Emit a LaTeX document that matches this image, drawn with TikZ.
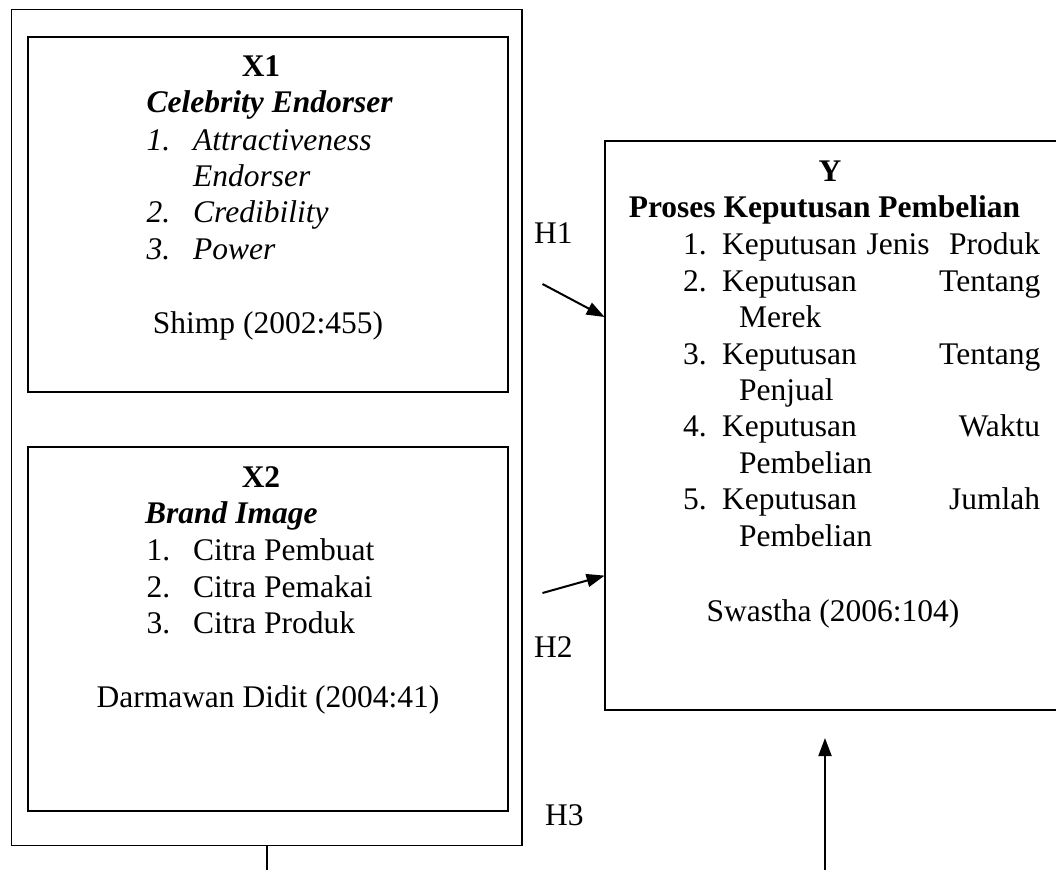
\documentclass[tikz,border=0pt]{standalone}
\usepackage{fontspec}
\setmainfont{Liberation Serif}
\usetikzlibrary{arrows.meta}
\begin{document}
\begin{tikzpicture}[x=1pt,y=-1pt,
  box/.style={draw,line width=1.8pt,anchor=north west,inner sep=0pt,outer sep=0pt},
  txt/.style={inner sep=0pt,anchor=base west,font=\fontsize{31.5}{36}\selectfont},
  ctr/.style={txt,anchor=base},
  conn/.style={line width=2pt},
  arr/.style={conn,-{Triangle[length=18pt,width=13pt]}}]
\clip (0,0) rectangle (1056,869);
\fill[white] (0,0) rectangle (1056,869);
% boxes
\node[box,minimum width=510.5pt,minimum height=836pt] (outer) at (11.5,9.5) {};
\node[box,minimum width=480pt,minimum height=355pt] (x1) at (28,37) {};
\node[box,minimum width=480pt,minimum height=363.7pt] (x2) at (28,447) {};
\node[box,minimum width=470pt,minimum height=569pt] (y) at (605,140.7) {};
% X1 text
\node[ctr,font=\fontsize{31.5}{36}\selectfont\bfseries] (x1t) at (261,77) {X1};
\node[txt,font=\fontsize{31.5}{36}\selectfont\bfseries\itshape] (x1n) at (146.5,113) {Celebrity Endorser};
\node[txt,font=\fontsize{31.5}{36}\selectfont\itshape] (x1a) at (146.5,150) {1.};
\node[txt,font=\fontsize{31.5}{36}\selectfont\itshape] (x1b) at (193,150) {Attractiveness};
\node[txt,font=\fontsize{31.5}{36}\selectfont\itshape] (x1c) at (193,186) {Endorser};
\node[txt,font=\fontsize{31.5}{36}\selectfont\itshape] (x1d) at (146.5,222) {2.};
\node[txt,font=\fontsize{31.5}{36}\selectfont\itshape] (x1e) at (193,222) {Credibility};
\node[txt,font=\fontsize{31.5}{36}\selectfont\itshape] (x1f) at (146.5,259) {3.};
\node[txt,font=\fontsize{31.5}{36}\selectfont\itshape] (x1g) at (193,259) {Power};
\node[ctr] (x1s) at (268,333) {Shimp (2002:455)};
% X2 text
\node[ctr,font=\fontsize{31.5}{36}\selectfont\bfseries] (x2t) at (261,487) {X2};
\node[txt,font=\fontsize{31.5}{36}\selectfont\bfseries\itshape] (x2n) at (145,523) {Brand Image};
\node[txt] (x2a) at (146.5,560) {1.};
\node[txt] (x2b) at (193,560) {Citra Pembuat};
\node[txt] (x2c) at (146.5,597) {2.};
\node[txt] (x2d) at (193,597) {Citra Pemakai};
\node[txt] (x2e) at (146.5,633) {3.};
\node[txt] (x2f) at (193,633) {Citra Produk};
\node[ctr] (x2s) at (268,707) {Darmawan Didit (2004:41)};
% Y text
\node[ctr,font=\fontsize{31.5}{36}\selectfont\bfseries] (yt) at (830,182) {Y};
\node[ctr,font=\fontsize{31.5}{36}\selectfont\bfseries] (yn) at (824.5,217) {Proses Keputusan Pembelian};
\node[txt] (y1n) at (683,254.5) {1.};
\node[txt] (y1) at (722,254.5) {\makebox[318pt][s]{Keputusan Jenis\ \ Produk}};
\node[txt] (y2n) at (683,291) {2.};
\node[txt] (y2) at (722,291) {\makebox[318pt][s]{Keputusan Tentang}};
\node[txt] (y2b) at (739,327) {Merek};
\node[txt] (y3n) at (683,364) {3.};
\node[txt] (y3) at (722,364) {\makebox[318pt][s]{Keputusan Tentang}};
\node[txt] (y3b) at (739,400) {Penjual};
\node[txt] (y4n) at (683,436) {4.};
\node[txt] (y4) at (722,436) {\makebox[318pt][s]{Keputusan Waktu}};
\node[txt] (y4b) at (739,473) {Pembelian};
\node[txt] (y5n) at (683,509) {5.};
\node[txt] (y5) at (722,509) {\makebox[318pt][s]{Keputusan Jumlah}};
\node[txt] (y5b) at (739,546) {Pembelian};
\node[ctr] (ys) at (833,621) {Swastha (2006:104)};
% labels
\node[txt] (h1) at (534,243) {H1};
\node[txt] (h2) at (534,657) {H2};
\node[txt] (h3) at (545,825) {H3};
% connectors
\coordinate (h1s) at (542.5,284);
\coordinate (h1e) at (604.6,317);
\coordinate (h2s) at (542.5,593);
\coordinate (h2e) at (604.6,575.6);
\coordinate (b1) at (266.75,875);
\coordinate (b2) at (825,875);
\coordinate (b2e) at (825,738);
\draw[arr] (h1s) -- (h1e);
\draw[arr] (h2s) -- (h2e);
\draw[conn] (outer.south) -- (b1);
\draw[arr] (b2) -- (b2e);
\end{tikzpicture}
\end{document}
